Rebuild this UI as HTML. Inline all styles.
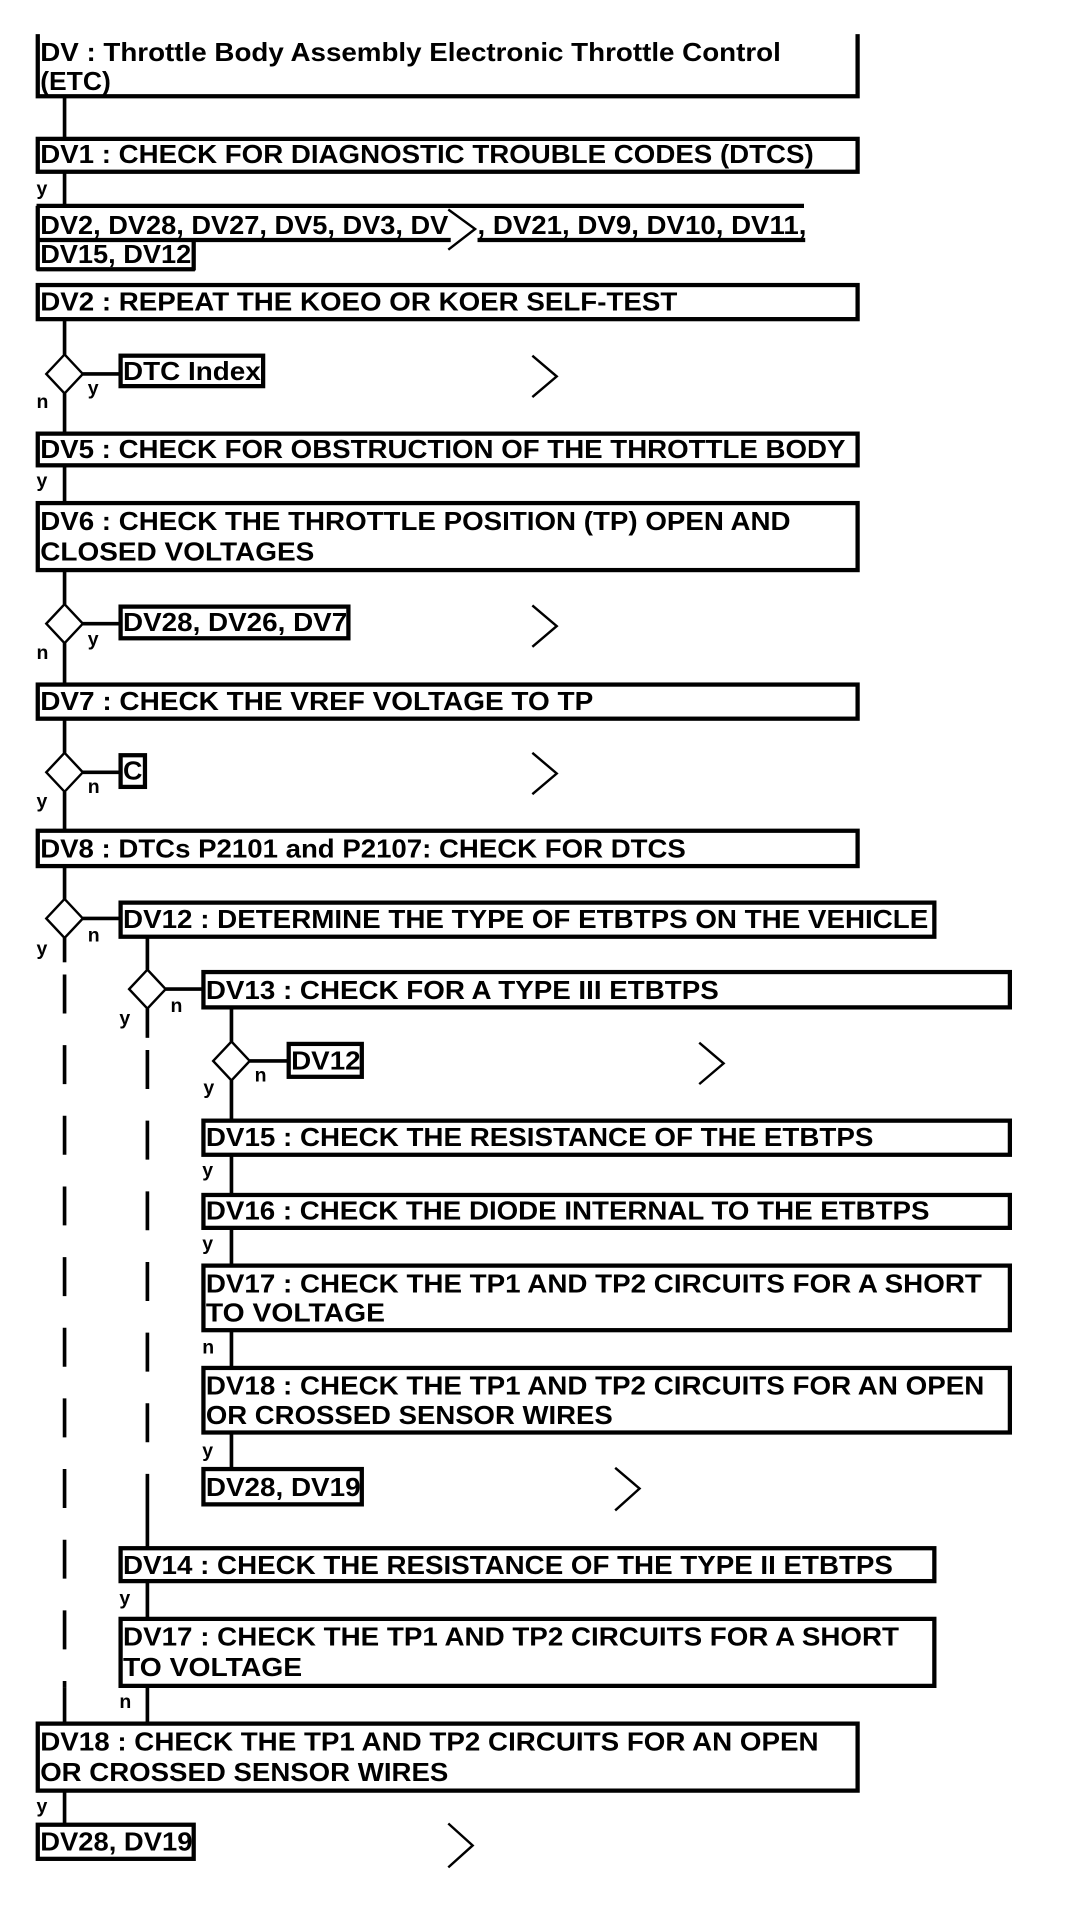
<!DOCTYPE html>
<html><head><meta charset="utf-8"><style>
html,body{margin:0;padding:0;background:#fff;}
svg{display:block;}
text{font-family:"Liberation Sans",Arial,sans-serif;font-weight:bold;fill:#000;}
.t{font-size:21px;}
.l{font-size:16px;}
</style></head><body>
<svg width="1072" height="1910" viewBox="0 0 880 1568" preserveAspectRatio="none" xmlns="http://www.w3.org/2000/svg">
<g stroke="#000" stroke-width="3" fill="none">
<!-- connectors main -->
<line x1="53" y1="80" x2="53" y2="113"/>
<line x1="53" y1="141" x2="53" y2="168"/>
<line x1="53" y1="262" x2="53" y2="291"/>
<line x1="53" y1="323" x2="53" y2="355"/>
<line x1="53" y1="382" x2="53" y2="412"/>
<line x1="53" y1="468" x2="53" y2="496"/>
<line x1="53" y1="528" x2="53" y2="561"/>
<line x1="53" y1="590" x2="53" y2="618"/>
<line x1="53" y1="650" x2="53" y2="681"/>
<line x1="53" y1="711" x2="53" y2="738"/>
<line x1="53" y1="770" x2="53" y2="790"/>
<line x1="53" y1="800" x2="53" y2="1385" stroke-dasharray="32 26"/>
<line x1="53" y1="1385" x2="53" y2="1414"/>
<line x1="53" y1="1470" x2="53" y2="1497"/>
<!-- horizontals -->
<line x1="68" y1="307" x2="98" y2="307"/>
<line x1="68" y1="512" x2="98" y2="512"/>
<line x1="68" y1="634" x2="98" y2="634"/>
<line x1="68" y1="754" x2="98" y2="754"/>
<line x1="136" y1="812" x2="166" y2="812"/>
<line x1="205" y1="871" x2="236" y2="871"/>
<!-- second column -->
<line x1="121" y1="769" x2="121" y2="796"/>
<line x1="121" y1="828" x2="121" y2="852"/>
<line x1="121" y1="862" x2="121" y2="1240" stroke-dasharray="32 26"/>
<line x1="121" y1="1240" x2="121" y2="1270"/>
<line x1="121" y1="1298" x2="121" y2="1328"/>
<line x1="121" y1="1384" x2="121" y2="1414"/>
<!-- third column -->
<line x1="190" y1="827" x2="190" y2="855"/>
<line x1="190" y1="887" x2="190" y2="919"/>
<line x1="190" y1="948" x2="190" y2="980"/>
<line x1="190" y1="1008" x2="190" y2="1038"/>
<line x1="190" y1="1092" x2="190" y2="1122"/>
<line x1="190" y1="1176" x2="190" y2="1205"/>
</g>
<g stroke="#000" stroke-width="2" fill="#fff">
<polygon points="53,291 68,307 53,323 38,307"/>
<polygon points="53,496 68,512 53,528 38,512"/>
<polygon points="53,618 68,634 53,650 38,634"/>
<polygon points="53,738 68,754 53,770 38,754"/>
<polygon points="121,796 136,812 121,828 106,812"/>
<polygon points="190,855 205,871 190,887 175,871"/>
</g>
<g stroke="#000" stroke-width="2" fill="none">
<polyline points="437,292 457,309 437,326"/>
<polyline points="437,497 457,514 437,531"/>
<polyline points="437,618 457,635 437,652"/>
<polyline points="574,856 594,873 574,890"/>
<polyline points="505,1205 525,1222 505,1240"/>
<polyline points="368,1497 388,1515 368,1533"/>
<polyline points="368,172 390,188 368,205"/>
</g>
<g stroke="#000" stroke-width="3.5" fill="#fff">
<!-- DV top box (no top border) -->
<polyline points="31,28 31,79 704,79 704,28"/>
<rect x="31" y="114" width="673" height="27"/>
<rect x="31" y="234" width="673" height="28"/>
<rect x="99" y="292" width="117" height="25"/>
<rect x="31" y="356" width="673" height="26"/>
<rect x="31" y="413" width="673" height="55"/>
<rect x="99" y="498" width="187" height="26"/>
<rect x="31" y="562" width="673" height="28"/>
<rect x="99" y="620" width="20" height="26"/>
<rect x="31" y="682" width="673" height="29"/>
<rect x="99" y="741" width="668" height="28"/>
<rect x="167" y="798" width="662" height="29"/>
<rect x="237" y="857" width="60" height="27"/>
<rect x="167" y="920" width="662" height="28"/>
<rect x="167" y="981" width="662" height="27"/>
<rect x="167" y="1039" width="662" height="53"/>
<rect x="167" y="1123" width="662" height="53"/>
<rect x="167" y="1206" width="130" height="29"/>
<rect x="99" y="1271" width="668" height="27"/>
<rect x="99" y="1329" width="668" height="55"/>
<rect x="31" y="1415" width="673" height="55"/>
<rect x="31" y="1498" width="128" height="28"/>
</g>
<!-- weird DV2 list box -->
<g stroke="#000" stroke-width="3.5" fill="none">
<line x1="30" y1="169" x2="660" y2="169"/>
<line x1="31" y1="169" x2="31" y2="222"/>
<line x1="30" y1="197" x2="370" y2="197"/>
<line x1="392" y1="197" x2="661" y2="197"/>
<line x1="30" y1="221" x2="160" y2="221"/>
<line x1="159" y1="197" x2="159" y2="222"/>
</g>
<g class="t">
<text x="33" y="50" textLength="608" lengthAdjust="spacingAndGlyphs">DV : Throttle Body Assembly Electronic Throttle Control</text>
<text x="33" y="74" textLength="58" lengthAdjust="spacingAndGlyphs">(ETC)</text>
<text x="33" y="134" textLength="635" lengthAdjust="spacingAndGlyphs">DV1 : CHECK FOR DIAGNOSTIC TROUBLE CODES (DTCS)</text>
<text x="33" y="192" textLength="335" lengthAdjust="spacingAndGlyphs">DV2, DV28, DV27, DV5, DV3, DV</text>
<text x="392" y="192" textLength="270" lengthAdjust="spacingAndGlyphs">, DV21, DV9, DV10, DV11,</text>
<text x="33" y="216" textLength="124" lengthAdjust="spacingAndGlyphs">DV15, DV12</text>
<text x="33" y="255" textLength="523" lengthAdjust="spacingAndGlyphs">DV2 : REPEAT THE KOEO OR KOER SELF-TEST</text>
<text x="101" y="312" textLength="113" lengthAdjust="spacingAndGlyphs">DTC Index</text>
<text x="33" y="376" textLength="661" lengthAdjust="spacingAndGlyphs">DV5 : CHECK FOR OBSTRUCTION OF THE THROTTLE BODY</text>
<text x="33" y="435" textLength="616" lengthAdjust="spacingAndGlyphs">DV6 : CHECK THE THROTTLE POSITION (TP) OPEN AND</text>
<text x="33" y="460" textLength="225" lengthAdjust="spacingAndGlyphs">CLOSED VOLTAGES</text>
<text x="101" y="518" textLength="184" lengthAdjust="spacingAndGlyphs">DV28, DV26, DV7</text>
<text x="33" y="583" textLength="454" lengthAdjust="spacingAndGlyphs">DV7 : CHECK THE VREF VOLTAGE TO TP</text>
<text x="101" y="640" textLength="16" lengthAdjust="spacingAndGlyphs">C</text>
<text x="33" y="704" textLength="530" lengthAdjust="spacingAndGlyphs">DV8 : DTCs P2101 and P2107: CHECK FOR DTCS</text>
<text x="101" y="762" textLength="661" lengthAdjust="spacingAndGlyphs">DV12 : DETERMINE THE TYPE OF ETBTPS ON THE VEHICLE</text>
<text x="169" y="820" textLength="421" lengthAdjust="spacingAndGlyphs">DV13 : CHECK FOR A TYPE III ETBTPS</text>
<text x="239" y="878" textLength="57" lengthAdjust="spacingAndGlyphs">DV12</text>
<text x="169" y="941" textLength="548" lengthAdjust="spacingAndGlyphs">DV15 : CHECK THE RESISTANCE OF THE ETBTPS</text>
<text x="169" y="1001" textLength="594" lengthAdjust="spacingAndGlyphs">DV16 : CHECK THE DIODE INTERNAL TO THE ETBTPS</text>
<text x="169" y="1061" textLength="637" lengthAdjust="spacingAndGlyphs">DV17 : CHECK THE TP1 AND TP2 CIRCUITS FOR A SHORT</text>
<text x="169" y="1085" textLength="147" lengthAdjust="spacingAndGlyphs">TO VOLTAGE</text>
<text x="169" y="1145" textLength="639" lengthAdjust="spacingAndGlyphs">DV18 : CHECK THE TP1 AND TP2 CIRCUITS FOR AN OPEN</text>
<text x="169" y="1169" textLength="334" lengthAdjust="spacingAndGlyphs">OR CROSSED SENSOR WIRES</text>
<text x="169" y="1228" textLength="127" lengthAdjust="spacingAndGlyphs">DV28, DV19</text>
<text x="101" y="1292" textLength="632" lengthAdjust="spacingAndGlyphs">DV14 : CHECK THE RESISTANCE OF THE TYPE II ETBTPS</text>
<text x="101" y="1351" textLength="637" lengthAdjust="spacingAndGlyphs">DV17 : CHECK THE TP1 AND TP2 CIRCUITS FOR A SHORT</text>
<text x="101" y="1376" textLength="147" lengthAdjust="spacingAndGlyphs">TO VOLTAGE</text>
<text x="33" y="1437" textLength="639" lengthAdjust="spacingAndGlyphs">DV18 : CHECK THE TP1 AND TP2 CIRCUITS FOR AN OPEN</text>
<text x="33" y="1462" textLength="335" lengthAdjust="spacingAndGlyphs">OR CROSSED SENSOR WIRES</text>
<text x="33" y="1519" textLength="125" lengthAdjust="spacingAndGlyphs">DV28, DV19</text>
</g>
<g class="l">
<text x="30" y="160">y</text>
<text x="30" y="335">n</text><text x="72" y="324">y</text>
<text x="30" y="400">y</text>
<text x="30" y="541">n</text><text x="72" y="530">y</text>
<text x="30" y="663">y</text><text x="72" y="651">n</text>
<text x="30" y="784">y</text><text x="72" y="773">n</text>
<text x="98" y="841">y</text><text x="140" y="831">n</text>
<text x="167" y="898">y</text><text x="209" y="888">n</text>
<text x="166" y="966">y</text>
<text x="166" y="1026">y</text>
<text x="166" y="1111">n</text>
<text x="166" y="1196">y</text>
<text x="98" y="1317">y</text>
<text x="98" y="1402">n</text>
<text x="30" y="1488">y</text>
</g>
</svg>
</body></html>
